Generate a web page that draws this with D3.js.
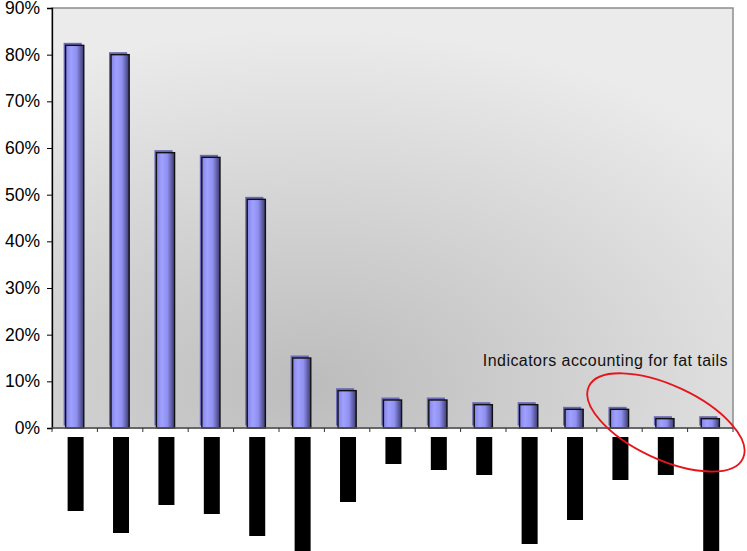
<!DOCTYPE html>
<html>
<head>
<meta charset="utf-8">
<script src="https://cdn.jsdelivr.net/npm/d3@7"></script>
<style>
  body { margin: 0; background: #fff; }
  svg text { font-family: "Liberation Sans", Arial, sans-serif; }
</style>
</head>
<body>
<div class="chart"></div>
<script>
// values
var categories = d3.range(1, 16).map(function(i) { return 'C' + i; });
var shares = [82, 80, 59, 58, 49, 15, 8, 6, 6, 5, 5, 4, 4, 2, 2];
// length of the blacked-out label under each bar
var hiddenLabelLength = [74, 96, 68, 77, 99, 120, 65, 27, 33, 38, 107, 83, 43, 38, 114];
var yTicks = [0, 10, 20, 30, 40, 50, 60, 70, 80, 90];
var noteText = 'Indicators accounting for fat tails';

var svgWidth = 747;
var svgHeight = 551;
var margin = { top: 8, right: 14, bottom: 123, left: 52 };
var width = svgWidth - margin.left - margin.right;
var height = svgHeight - margin.top - margin.bottom;

var svg = d3.select('.chart')
  .append('svg')
  .attr('width', svgWidth)
  .attr('height', svgHeight);

var defs = svg.append('defs');

var bg = defs.append('radialGradient')
  .attr('id', 'plotBg')
  .attr('cx', '38%').attr('cy', '90%').attr('r', '85%');
bg.append('stop').attr('offset', '0%').attr('stop-color', '#bcbcbc');
bg.append('stop').attr('offset', '100%').attr('stop-color', '#ebebeb');

var barFill = defs.append('linearGradient')
  .attr('id', 'barFill')
  .attr('x1', '0%').attr('x2', '100%').attr('y1', '0%').attr('y2', '0%');
barFill.append('stop').attr('offset', '0%').attr('stop-color', '#8484e6');
barFill.append('stop').attr('offset', '30%').attr('stop-color', '#a0a0ff');
barFill.append('stop').attr('offset', '60%').attr('stop-color', '#9090f0');
barFill.append('stop').attr('offset', '100%').attr('stop-color', '#3a3a6e');

var chartGroup = svg.append('g')
  .attr('transform', `translate(${margin.left}, ${margin.top})`);

var xScale = d3.scaleBand()
  .domain(categories)
  .range([0, width])
  .paddingInner(0.6)
  .paddingOuter(0.3);

var yScale = d3.scaleLinear()
  .domain([0, 90])
  .range([height, 0]);

var labelScale = d3.scaleLinear()
  .domain([0, 100])
  .range([0, 100]);

// plot area
chartGroup.append('rect')
  .attr('width', width)
  .attr('height', height)
  .attr('fill', 'url(#plotBg)')
  .attr('stroke', '#8c8c8c')
  .attr('stroke-width', 1.5);

// bars: back face for the 3D depth, then the front face
var bw = xScale.bandwidth();
chartGroup.selectAll('rect.barBack')
  .data(shares)
  .enter()
  .append('rect')
  .attr('class', 'barBack')
  .attr('x', (d, i) => xScale(categories[i]) - 2)
  .attr('y', d => yScale(d) - 2.5)
  .attr('width', bw)
  .attr('height', d => height - yScale(d))
  .attr('fill', '#6a6ab8');

chartGroup.selectAll('rect.bar')
  .data(shares)
  .enter()
  .append('rect')
  .attr('class', 'bar')
  .attr('x', (d, i) => xScale(categories[i]))
  .attr('y', d => yScale(d))
  .attr('width', bw)
  .attr('height', d => height - yScale(d))
  .attr('fill', 'url(#barFill)')
  .attr('stroke', '#111')
  .attr('stroke-width', 1.4);

// axes
var leftAxis = d3.axisLeft(yScale)
  .tickValues(yTicks)
  .tickFormat(d => d + '%')
  .tickSize(5)
  .tickPadding(7);

var yAxisG = chartGroup.append('g').call(leftAxis);
yAxisG.select('.domain').attr('stroke', '#000').attr('stroke-width', 1.3);
yAxisG.selectAll('.tick line').attr('stroke', '#000');
yAxisG.selectAll('.tick text')
  .attr('font-size', 17.5)
  .attr('fill', '#000')
  .style('font-family', '"Liberation Sans", Arial, sans-serif');

var xAxisG = chartGroup.append('g')
  .attr('transform', `translate(0, ${height})`);
xAxisG.append('line')
  .attr('x1', 0).attr('x2', width)
  .attr('stroke', '#555').attr('stroke-width', 1.5);
xAxisG.selectAll('line.tick')
  .data(d3.range(categories.length + 1))
  .enter()
  .append('line')
  .attr('class', 'tick')
  .attr('x1', i => i * xScale.step())
  .attr('x2', i => i * xScale.step())
  .attr('y1', 0).attr('y2', 4)
  .attr('stroke', '#333');

// blacked-out category labels
chartGroup.selectAll('rect.hidden')
  .data(hiddenLabelLength)
  .enter()
  .append('rect')
  .attr('class', 'hidden')
  .attr('x', (d, i) => xScale(categories[i]) + 2)
  .attr('y', height + 9)
  .attr('width', 16)
  .attr('height', d => labelScale(d))
  .attr('fill', '#000');

// annotation
chartGroup.append('text')
  .attr('x', width - 5)
  .attr('y', yScale(13.3))
  .attr('text-anchor', 'end')
  .attr('font-size', 16)
  .attr('letter-spacing', 0.45)
  .attr('fill', '#111')
  .text(noteText);

var ringCx = (xScale(categories[12]) + xScale(categories[14]) + bw) / 2 + 1;
chartGroup.append('ellipse')
  .attr('transform', `translate(${ringCx}, ${yScale(1.2)}) rotate(25)`)
  .attr('rx', 85)
  .attr('ry', 37)
  .attr('fill', 'none')
  .attr('stroke', '#e8141c')
  .attr('stroke-width', 1.8);
</script>
</body>
</html>
